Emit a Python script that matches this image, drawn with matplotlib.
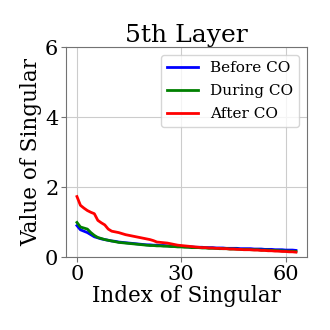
import numpy as np
import matplotlib
matplotlib.use('Agg')
from matplotlib import pyplot as plt

before_co = [0.90, 0.78, 0.74, 0.70, 0.64, 0.58, 0.55, 0.52, 0.50, 0.48,
             0.46, 0.45, 0.43, 0.42, 0.41, 0.40, 0.39, 0.38, 0.37, 0.36,
             0.35, 0.35, 0.34, 0.34, 0.33, 0.33, 0.32, 0.32, 0.31, 0.31,
             0.30, 0.30, 0.29, 0.29, 0.28, 0.28, 0.28, 0.27, 0.27, 0.27,
             0.26, 0.26, 0.26, 0.25, 0.25, 0.25, 0.25, 0.24, 0.24, 0.24,
             0.24, 0.23, 0.23, 0.23, 0.22, 0.22, 0.22, 0.21, 0.21, 0.21,
             0.20, 0.20, 0.20, 0.19]
during_co = [0.99, 0.86, 0.83, 0.80, 0.70, 0.62, 0.56, 0.53, 0.50, 0.48,
             0.46, 0.44, 0.42, 0.41, 0.40, 0.39, 0.38, 0.37, 0.36, 0.35,
             0.34, 0.33, 0.33, 0.32, 0.32, 0.31, 0.31, 0.30, 0.30, 0.29,
             0.29, 0.28, 0.28, 0.27, 0.27, 0.27, 0.26, 0.26, 0.25, 0.25,
             0.25, 0.24, 0.24, 0.24, 0.23, 0.23, 0.23, 0.22, 0.22, 0.22,
             0.21, 0.21, 0.21, 0.20, 0.20, 0.20, 0.19, 0.19, 0.18, 0.18,
             0.17, 0.17, 0.16, 0.16]
after_co = [1.73, 1.48, 1.40, 1.33, 1.28, 1.24, 1.05, 0.98, 0.92, 0.80,
            0.74, 0.72, 0.70, 0.67, 0.64, 0.62, 0.60, 0.58, 0.56, 0.54,
            0.52, 0.50, 0.47, 0.43, 0.42, 0.41, 0.40, 0.38, 0.36, 0.34,
            0.33, 0.32, 0.31, 0.30, 0.29, 0.28, 0.27, 0.27, 0.26, 0.26,
            0.25, 0.25, 0.24, 0.24, 0.23, 0.23, 0.22, 0.22, 0.21, 0.21,
            0.21, 0.20, 0.20, 0.19, 0.19, 0.18, 0.18, 0.17, 0.17, 0.16,
            0.16, 0.15, 0.15, 0.14]
idx = np.arange(len(before_co))

plt.rcParams['font.family'] = 'DejaVu Serif'

fig = plt.figure(figsize=(3.3, 3.3), dpi=100)
ax = fig.add_axes([0.2, 0.221, 0.73, 0.636])
ax.plot(idx, before_co, color='blue', lw=2, label='Before CO')
ax.plot(idx, during_co, color='green', lw=2, label='During CO')
ax.plot(idx, after_co, color='red', lw=2, label='After CO')
ax.set_ylim(0, 6)
ax.set_xticks([0, 30, 60])
ax.set_yticks([0, 2, 4, 6])
ax.tick_params(labelsize=15, color='0.45', pad=2)
for s in ax.spines.values():
    s.set_color('0.45')
ax.grid(True, color='0.8')
ax.set_title('5th Layer', fontsize=18, pad=3)
ax.set_xlabel('Index of Singular', fontsize=15.5, labelpad=1)
ax.set_ylabel('Value of Singular', fontsize=15.5, labelpad=2)
ax.legend(loc='upper right', fontsize=11, labelspacing=0.6)

plt.savefig('out.png')
